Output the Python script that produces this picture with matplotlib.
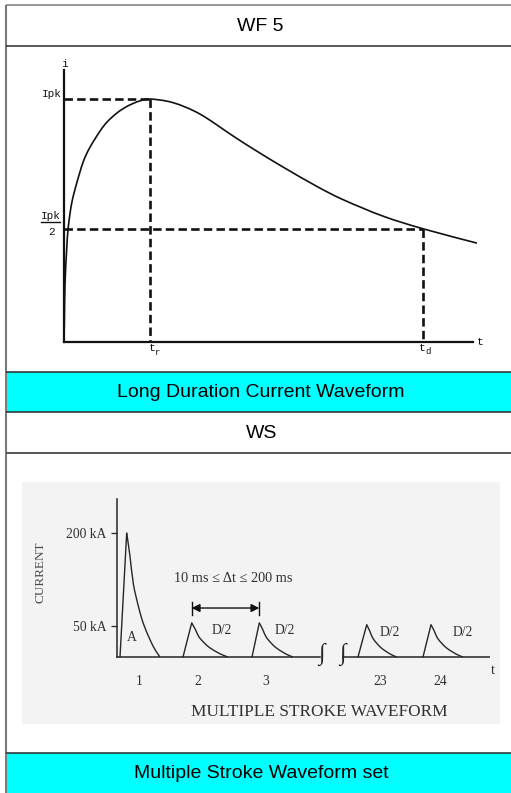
import matplotlib
matplotlib.use("Agg")
import matplotlib.pyplot as plt
from matplotlib.patches import Rectangle, PathPatch
from matplotlib.path import Path
import numpy as np

W, H, DPI = 511, 793, 100

# ---------------- table texts ----------------
title_top = "WF 5"
caption_top = "Long Duration Current Waveform"
title_bottom = "WS"
caption_bottom = "Multiple Stroke Waveform set"

# ---------------- WF5 diagram data (t / tr , i / Ipk) ----------------
wf5_t = [0.0, 0.005, 0.012, 0.031, 0.050, 0.090, 0.148, 0.224, 0.300, 0.419,
         0.500, 0.600, 0.700, 0.800, 0.900, 1.0, 1.267, 1.581, 1.965, 2.221,
         2.547, 2.942, 3.244, 3.709, 4.174, 4.802]
wf5_i = [0.0, 0.104, 0.243, 0.379, 0.474, 0.572, 0.654, 0.742, 0.800, 0.868,
         0.905, 0.938, 0.963, 0.981, 0.994, 1.0, 0.985, 0.938, 0.848, 0.790,
         0.720, 0.640, 0.586, 0.518, 0.466, 0.407]
t_rise = 1.0
t_dur = 4.174
i_peak = 1.0
i_half_mark = 0.466
wf5_t_axis_end = 4.756
wf5_i_axis_end = 1.12

# ---------------- Multiple stroke diagram data ----------------
stroke_labels = ["1", "2", "3", "23", "24"]
stroke_label_t = [2.2, 8.1, 14.9, 26.3, 32.3]
stroke_start = [0.3, 6.6, 13.5, 24.1, 30.6]
stroke_peak_t = [0.97, 7.47, 14.23, 24.97, 31.4]
stroke_end = [4.3, 11.1, 17.6, 27.97, 34.6]
stroke_peak_kA = [200, 55, 55, 52, 52]
stroke_names = ["A", "D/2", "D/2", "D/2", "D/2"]
decay_frac_t = [0.0, 0.1, 0.2, 0.35, 0.5, 0.7, 0.85, 1.0]
decay_frac_i = [1.0, 0.81, 0.59, 0.41, 0.27, 0.14, 0.06, 0.0]
ms_yticks = [50, 200]
ms_yticklabels = ["50 kA", "200 kA"]
ms_y_axis_top = 255
ms_axis_break = (20.3, 22.5)
ms_axis_end = 37.3


def smooth_curve(ax, xs, ys, **kw):
    """Draw a smooth (Catmull-Rom as cubic Bezier) curve through the given points."""
    p = np.column_stack([xs, ys]).astype(float)
    n = len(p)
    verts = [p[0]]
    codes = [Path.MOVETO]
    for k in range(n - 1):
        p0 = p[k - 1] if k > 0 else p[k]
        p1 = p[k]
        p2 = p[k + 1]
        p3 = p[k + 2] if k + 2 < n else p[k + 1]
        verts += [p1 + (p2 - p0) / 6.0, p2 - (p3 - p1) / 6.0, p2]
        codes += [Path.CURVE4] * 3
    patch = PathPatch(Path(verts, codes), facecolor="none", **kw)
    ax.add_patch(patch)
    return patch


fig = plt.figure(figsize=(W / DPI, H / DPI), dpi=DPI)

# ---------------- background table ----------------
bg = fig.add_axes([0, 0, 1, 1], zorder=0)
bg.set_xlim(0, W)
bg.set_ylim(H, 0)
bg.axis("off")
CYAN = "#00ffff"
bg.add_patch(Rectangle((7, 372), W - 7, 40.3, facecolor=CYAN, edgecolor="none"))
bg.add_patch(Rectangle((7, 752.7), W - 7, 41, facecolor=CYAN, edgecolor="none"))
bg.plot([6, W], [5, 5], color="#7a7a7a", lw=1.1, solid_capstyle="butt")
bg.plot([6, 6], [5, H], color="#7a7a7a", lw=1.5, solid_capstyle="butt")
for y, c, lw in [(45.7, "#2a2a2a", 1.1), (372, "#2a2a2a", 1.1),
                 (412.3, "#2a2a2a", 1.1), (452.7, "#555555", 1.4),
                 (752.7, "#2a2a2a", 1.1)]:
    bg.plot([6, W], [y, y], color=c, lw=lw, solid_capstyle="butt")

hdr = dict(family="Liberation Sans", fontsize=14, ha="center", va="center", color="black")
bg.text(260.5, 26.5, title_top, **hdr)
bg.text(260.5, 392.5, caption_top, **hdr)
bg.text(261.5, 433.5, title_bottom, **hdr)
bg.text(261.5, 773.5, caption_bottom, **hdr)

# ---------------- WF5 diagram ----------------
ax1 = fig.add_axes([64 / W, (H - 342) / H, 430 / W, 280 / H], zorder=2)
ax1.set_xlim(0, 5)
ax1.set_ylim(0, 280 / 243)
ax1.patch.set_alpha(0)
for s in ["top", "right"]:
    ax1.spines[s].set_visible(False)
ax1.spines["left"].set_bounds(0, wf5_i_axis_end)
ax1.spines["bottom"].set_bounds(0, wf5_t_axis_end)
for s in ["left", "bottom"]:
    ax1.spines[s].set_linewidth(1.6)
    ax1.spines[s].set_color("#111111")
ax1.set_xticks([])
ax1.set_yticks([])

c1 = smooth_curve(ax1, wf5_t, wf5_i, edgecolor="#111111", lw=1.2, joinstyle="round")
c1.set_clip_on(False)
dash = dict(color="#111111", lw=1.9, linestyle=(0, (3.2, 1.6)), clip_on=False)
ax1.plot([0, t_rise], [i_peak, i_peak], **dash)
ax1.plot([t_rise, t_rise], [i_peak, 0], **dash)
ax1.plot([0, t_dur], [i_half_mark, i_half_mark], **dash)
ax1.plot([t_dur, t_dur], [i_half_mark, 0], **dash)

mono = dict(family="Liberation Mono", color="#111111", clip_on=False)
ax1.text(0.006, 1.144, "i", fontsize=8, ha="center", va="center", **mono)
ax1.text(-0.025, 1.02, "Ipk", fontsize=8, ha="right", va="center", **mono)
ax1.text(-0.15, 0.518, "Ipk", fontsize=8, ha="center", va="center", **mono)
ax1.plot([-0.267, -0.047], [0.492, 0.492], color="#111111", lw=1.0, clip_on=False)
ax1.text(-0.15, 0.453, "2", fontsize=8, ha="center", va="center", **mono)
ax1.text(t_rise + 0.02, -0.024, "t", fontsize=8, ha="center", va="center", **mono)
ax1.text(t_rise + 0.085, -0.043, "r", fontsize=6.5, ha="center", va="center", **mono)
ax1.text(t_dur - 0.01, -0.024, "t", fontsize=8, ha="center", va="center", **mono)
ax1.text(t_dur + 0.06, -0.039, "d", fontsize=6.5, ha="center", va="center", **mono)
ax1.text(wf5_t_axis_end + 0.04, 0.0, "t", fontsize=8, ha="left", va="center", **mono)

# ---------------- Multiple stroke diagram ----------------
ax2 = fig.add_axes([22 / W, (H - 724) / H, 478 / W, 242 / H], zorder=1)
ax2.set_xlim(-9.5, 38.3)
ax2.set_ylim((657 - 724) / 0.62, (657 - 482) / 0.62)
ax2.set_facecolor("#f3f3f3")
LC = "#262626"
TC = "#303030"
for s in ["top", "right"]:
    ax2.spines[s].set_visible(False)
ax2.spines["left"].set_position(("data", 0))
ax2.spines["bottom"].set_position(("data", 0))
ax2.spines["left"].set_bounds(0, ms_y_axis_top)
ax2.spines["bottom"].set_bounds(0, ms_axis_break[0])
for s in ["left", "bottom"]:
    ax2.spines[s].set_linewidth(1.1)
    ax2.spines[s].set_color(LC)
ax2.plot([ms_axis_break[1], ms_axis_end], [0, 0], color=LC, lw=1.1, solid_capstyle="butt")

ax2.set_yticks(ms_yticks, ms_yticklabels)
ax2.tick_params(axis="y", direction="out", length=4.3, width=0.9, color=LC, pad=3.5,
                labelsize=9.8, labelcolor=TC)
ax2.set_xticks(stroke_label_t, stroke_labels)
ax2.tick_params(axis="x", length=0, pad=13, labelsize=9.8, labelcolor=TC)
for lab in ax2.get_xticklabels() + ax2.get_yticklabels():
    lab.set_family("Liberation Serif")

for s0, tp, te, pk in zip(stroke_start, stroke_peak_t, stroke_end, stroke_peak_kA):
    ax2.plot([s0, tp], [0, pk], color=LC, lw=1.0, solid_capstyle="round")
    xs = [tp + f * (te - tp) for f in decay_frac_t]
    ys = [pk * f for f in decay_frac_i]
    smooth_curve(ax2, xs, ys, edgecolor=LC, lw=1.0)

serif = dict(family="Liberation Serif", color=TC)
ax2.text(1.5, 32, stroke_names[0], fontsize=9.8, ha="center", va="center", **serif)
for tx, ky, nm in zip([10.5, 16.8, 27.3, 34.6], [43.5, 43.5, 40, 40], stroke_names[1:]):
    ax2.text(tx, ky, nm, fontsize=9.8, ha="center", va="center", **serif)

# delta-t arrow between stroke 2 and 3
ax2.annotate("", xy=(stroke_peak_t[1], 79), xytext=(stroke_peak_t[2], 79),
             arrowprops=dict(arrowstyle="<|-|>", color="#111111", lw=1.0,
                             mutation_scale=12, shrinkA=0, shrinkB=0))
for tx in stroke_peak_t[1:3]:
    ax2.plot([tx, tx], [67.7, 89], color="#111111", lw=1.0)
ax2.text((stroke_peak_t[1] + stroke_peak_t[2]) / 2 + 0.8, 127, "10 ms \u2264 \u0394t \u2264 200 ms",
         fontsize=10.3, ha="center", va="center", **serif)

# axis break marks
for bx in [20.45, 22.5]:
    ax2.text(bx, 5, "\u222b", fontsize=17, ha="center", va="center",
             family="Liberation Serif", color=LC)

ax2.text(37.6, -21, "t", fontsize=10, ha="center", va="center", **serif)
ax2.text(20.2, -88.7, "MULTIPLE STROKE WAVEFORM", fontsize=12.4, ha="center", va="center", **serif)
ax2.text(-7.7, 137, "CURRENT", fontsize=9.5, ha="center", va="center", rotation=90,
         family="Liberation Serif", color="#4a4a4a")

fig.savefig("out.png", dpi=DPI)
